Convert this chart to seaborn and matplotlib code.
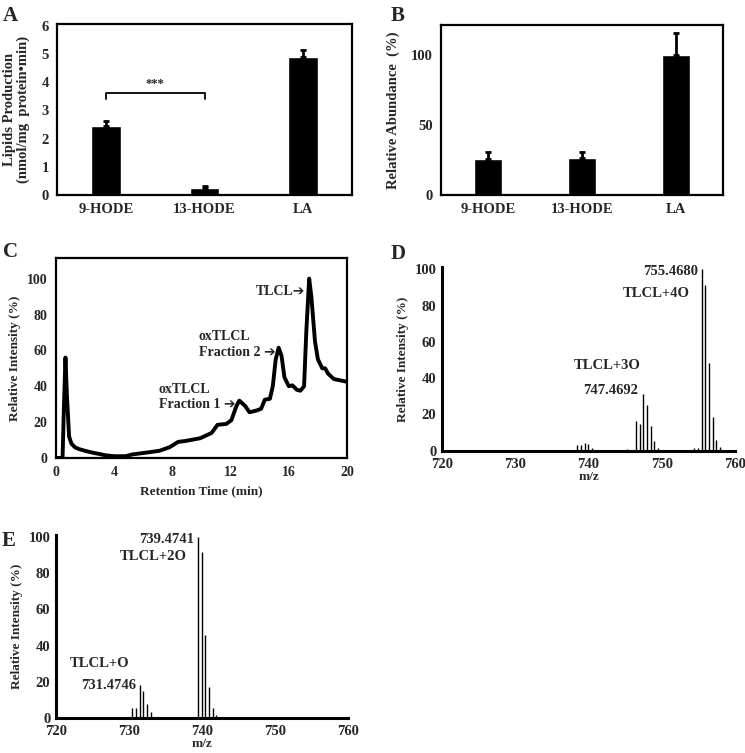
import matplotlib
matplotlib.use("Agg")
import matplotlib.pyplot as plt
import seaborn as sns
import numpy as np
import pandas as pd

sns.set_theme(style="white")
plt.rcParams['font.family'] = ['Liberation Serif', 'DejaVu Sans']
plt.rcParams['font.weight'] = 'bold'
plt.rcParams['axes.labelweight'] = 'bold'

# ---------------- data ----------------
categories = ["9-HODE", "13-HODE", "LA"]
a_values = [2.45, 0.24, 4.89]
a_errors = [0.16, 0.08, 0.26]
b_values = [25.4, 26.1, 100.0]
b_errors = [4.9, 4.2, 15.2]

c_time = [0.0, 0.45, 0.55, 0.65, 0.75, 0.9, 1.06, 1.3, 1.57, 2.0, 2.5, 3.0, 3.4, 4.0, 4.8,
          5.25, 6.2, 7.1, 7.8, 8.4, 8.9, 9.9, 10.7, 11.1, 11.7, 12.05, 12.4, 12.6, 13.0,
          13.3, 13.8, 14.1, 14.35, 14.7, 14.9, 15.1, 15.3, 15.5, 15.7, 16.0, 16.25, 16.55,
          16.8, 17.05, 17.2, 17.4, 17.55, 17.8, 18.0, 18.3, 18.5, 18.7, 19.1, 19.4, 20.0]
c_intensity = [0.0, 0.0, 30.0, 56.0, 35.0, 12.0, 8.0, 6.0, 5.0, 4.0, 3.0, 2.2, 1.5, 1.0, 1.0,
               2.0, 3.0, 4.0, 6.0, 9.0, 9.5, 11.0, 14.0, 18.5, 19.0, 21.0, 29.0, 32.0, 29.0,
               25.5, 26.5, 27.5, 32.5, 33.0, 40.0, 55.0, 61.5, 57.0, 45.0, 40.0, 40.5, 38.0,
               37.5, 40.0, 70.0, 100.0, 90.0, 65.0, 55.0, 50.0, 50.0, 47.0, 44.0, 43.5, 42.5]

d_mz = [738.47, 738.97, 739.47, 739.97, 740.47, 742.5, 743.0, 745.3,
        746.47, 746.97, 747.47, 747.97, 748.47, 748.97, 749.47,
        754.47, 754.97, 755.47, 755.97, 756.47, 756.97, 757.47, 757.97]
d_int = [3.0, 3.0, 4.0, 3.5, 1.5, 0.5, 0.5, 1.0,
         16.4, 14.5, 31.0, 25.0, 13.4, 5.5, 1.5,
         1.5, 1.5, 100.0, 91.5, 48.5, 18.5, 6.0, 2.0]

e_mz = [726.3, 730.47, 730.97, 731.47, 731.97, 732.47, 732.97,
        739.0, 739.47, 739.97, 740.47, 740.97, 741.47, 741.97, 749.5]
e_int = [0.6, 5.9, 5.5, 18.2, 15.0, 7.7, 3.3,
         0.6, 100.0, 91.4, 46.0, 17.0, 5.5, 2.0, 0.8]

mz_ticks = [720, 730, 740, 750, 760]
c_ticks = [0, 4, 8, 12, 16, 20]
pct_ticks = [0, 20, 40, 60, 80, 100]

FS = 10.5
W, H = 745, 753
fig = plt.figure(figsize=(W / 100, H / 100), dpi=100)
ARROW = "\u2794"


def rect(l, r, t, b):
    return [l / W, 1 - b / H, (r - l) / W, (b - t) / H]


def box_style(ax, lw=1.6):
    for s in ax.spines.values():
        s.set_visible(True)
        s.set_color("black")
        s.set_linewidth(lw)
    ax.grid(False)


# ---------------- A ----------------
axA = fig.add_axes(rect(57, 352, 24, 195))
dfA = pd.DataFrame({"cat": categories, "val": a_values})
sns.barplot(data=dfA, x="cat", y="val", color="black", width=0.3, ax=axA,
            saturation=1, errorbar=None)
axA.errorbar(range(3), a_values, yerr=[[0] * 3, a_errors], fmt="none",
             ecolor="black", elinewidth=2, capsize=2.5, capthick=2)
axA.set_ylim(0, 6.07)
axA.set_xlim(-0.5, 2.5)
axA.set_yticks(range(7))
axA.set_xlabel("")
axA.set_ylabel("Lipids Production\n(nmol/mg  protein\u2022min)", fontsize=FS,
               fontweight="bold", labelpad=8, linespacing=1.1)
axA.tick_params(axis="both", labelsize=FS, length=0, pad=6)
for t in axA.get_xticklabels() + axA.get_yticklabels():
    t.set_fontweight("bold")
box_style(axA)
# significance bracket
axA.plot([0, 0, 1, 1], [3.41, 3.61, 3.61, 3.41], color="black", lw=1.3)
axA.text(0.5, 3.72, "***", ha="center", va="bottom", fontsize=9, fontweight="bold")
fig.text(3 / W, 1 - 6 / H, "A", fontsize=15, fontweight="bold", va="top", ha="left")

# ---------------- B ----------------
axB = fig.add_axes(rect(441, 723, 25, 195))
dfB = pd.DataFrame({"cat": categories, "val": b_values})
sns.barplot(data=dfB, x="cat", y="val", color="black", width=0.3, ax=axB,
            saturation=1, errorbar=None)
axB.errorbar(range(3), b_values, yerr=[[0] * 3, b_errors], fmt="none",
             ecolor="black", elinewidth=2, capsize=2.5, capthick=2)
axB.set_ylim(0, 121)
axB.set_xlim(-0.5, 2.5)
axB.set_yticks([0, 50, 100])
axB.set_xlabel("")
axB.set_ylabel("Relative Abundance  (%)", fontsize=FS, fontweight="bold", labelpad=8)
axB.tick_params(axis="both", labelsize=FS, length=0, pad=6)
for t in axB.get_xticklabels() + axB.get_yticklabels():
    t.set_fontweight("bold")
box_style(axB)
fig.text(391 / W, 1 - 6 / H, "B", fontsize=15, fontweight="bold", va="top", ha="left")

# ---------------- C ----------------
axC = fig.add_axes(rect(56, 347, 258, 458))
dfC = pd.DataFrame({"time": c_time, "intensity": c_intensity})
sns.lineplot(data=dfC, x="time", y="intensity", color="black", lw=2.8, ax=axC)
axC.set_xlim(0, 20)
axC.set_ylim(0, 111.5)
axC.set_xticks(c_ticks)
axC.set_yticks(pct_ticks)
axC.set_xlabel("Retention Time (min)", fontsize=9.5, fontweight="bold", labelpad=4)
axC.set_ylabel("Relative Intensity (%)", fontsize=9.5, fontweight="bold", labelpad=4)
axC.tick_params(axis="both", labelsize=10, direction="inout", length=4, width=1.6, pad=4)
for t in axC.get_xticklabels() + axC.get_yticklabels():
    t.set_fontweight("bold")
box_style(axC)
afs = 10
axC.text(17.1, 93, "TLCL" + ARROW, ha="right", va="center", fontsize=afs, fontweight="bold")
axC.text(9.8, 67.5, "oxTLCL", ha="left", va="center", fontsize=afs, fontweight="bold")
axC.text(9.8, 59, "Fraction 2 " + ARROW, ha="left", va="center", fontsize=afs, fontweight="bold")
axC.text(7.05, 38, "oxTLCL", ha="left", va="center", fontsize=afs, fontweight="bold")
axC.text(7.05, 30, "Fraction 1 " + ARROW, ha="left", va="center", fontsize=afs, fontweight="bold")
fig.text(3 / W, 1 - 242 / H, "C", fontsize=15, fontweight="bold", va="top", ha="left")


# ---------------- D / E ----------------
def ms_axes(ax, mz, inten):
    ax.vlines(mz, 0, inten, color="black", lw=1.0)
    ax.set_xlim(720, 760)
    ax.set_ylim(0, 101)
    ax.set_xticks(mz_ticks)
    ax.set_yticks(pct_ticks)
    ax.set_xlabel("m/z", fontsize=9.5, fontweight="bold", labelpad=0)
    ax.set_ylabel("Relative Intensity (%)", fontsize=9.5, fontweight="bold", labelpad=4)
    ax.tick_params(axis="x", labelsize=FS, direction="inout", length=4, width=2, pad=3)
    ax.tick_params(axis="y", labelsize=FS, direction="out", length=3, width=1.2, pad=1)
    for t in ax.get_xticklabels() + ax.get_yticklabels():
        t.set_fontweight("bold")
    ax.grid(False)
    for s in ["top", "right"]:
        ax.spines[s].set_visible(False)
    for s in ["left", "bottom"]:
        ax.spines[s].set_visible(True)
        ax.spines[s].set_color("black")
        ax.spines[s].set_linewidth(2.2)


axD = fig.add_axes(rect(442, 735, 267.5, 450.7))
ms_axes(axD, d_mz, d_int)
axD.text(755.0, 99.0, "755.4680", ha="right", va="center", fontsize=FS, fontweight="bold")
axD.text(749.3, 86.8, "TLCL+4O", ha="center", va="center", fontsize=FS, fontweight="bold")
axD.text(742.5, 47, "TLCL+3O", ha="center", va="center", fontsize=FS, fontweight="bold")
axD.text(746.8, 33, "747.4692", ha="right", va="center", fontsize=FS, fontweight="bold")
fig.text(391 / W, 1 - 244 / H, "D", fontsize=15, fontweight="bold", va="top", ha="left")

axE = fig.add_axes(rect(56, 347.7, 534.9, 718.3))
ms_axes(axE, e_mz, e_int)
axE.text(738.95, 98.2, "739.4741", ha="right", va="center", fontsize=FS, fontweight="bold")
axE.text(733.4, 89, "TLCL+2O", ha="center", va="center", fontsize=FS, fontweight="bold")
axE.text(726.0, 30, "TLCL+O", ha="center", va="center", fontsize=FS, fontweight="bold")
axE.text(731.0, 18.3, "731.4746", ha="right", va="center", fontsize=FS, fontweight="bold")
fig.text(2 / W, 1 - 531 / H, "E", fontsize=15, fontweight="bold", va="top", ha="left")

fig.savefig("out.png", dpi=100, facecolor="white")
